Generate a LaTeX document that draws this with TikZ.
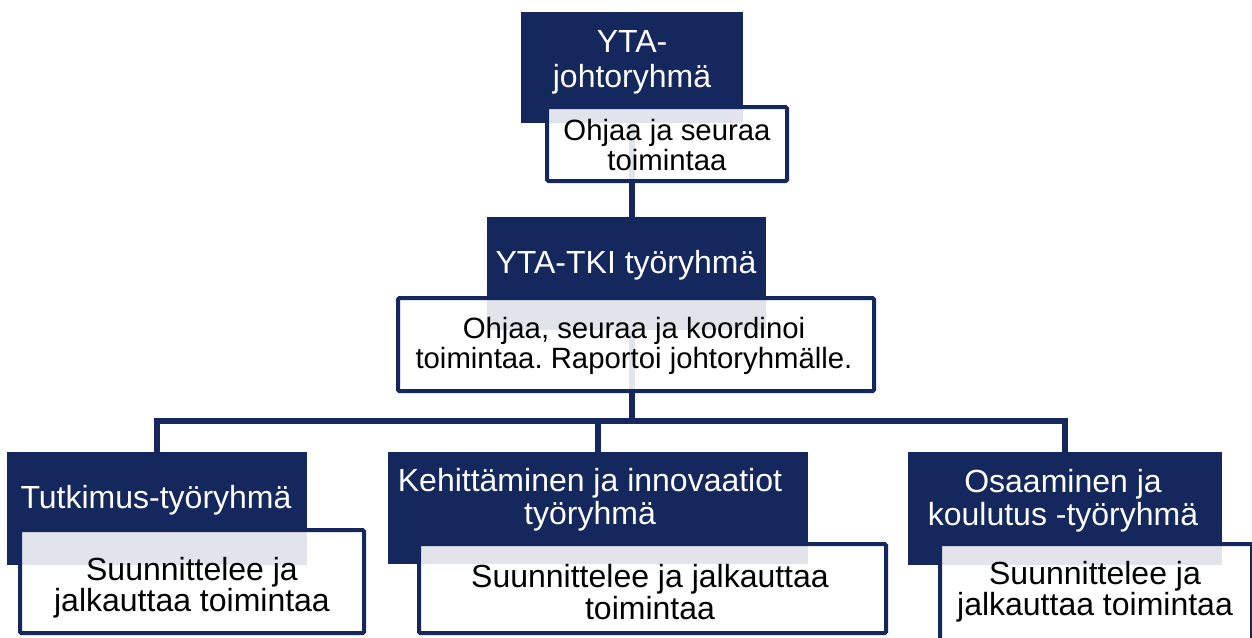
\documentclass[tikz,border=0pt]{standalone}
\usepackage{fontspec}
\setmainfont{Liberation Sans}
\frenchspacing
\definecolor{navy}{RGB}{21,40,94}
\tikzset{
  darkbox/.style={fill=navy, draw=none, inner sep=0pt},
  whitebox/.style={draw=navy, line width=3pt, fill=white, fill opacity=0.88, inner sep=0pt, rounded corners=1pt},
  conn/.style={draw=navy, line width=4.5pt},
  dtext/.style={text=white, align=center, inner sep=0pt, font=\fontsize{24}{25}\selectfont},
  wtext/.style={text=black, align=center, inner sep=0pt, font=\fontsize{24}{23.5}\selectfont},
  wtextsmall/.style={wtext, font=\fontsize{22}{23}\selectfont}
}
\begin{document}
\begin{tikzpicture}[x=0.75pt,y=-0.75pt]
\useasboundingbox (0,0) rectangle (1252,637);
\clip (0,0) rectangle (1252,637);
% dark header boxes
\node[darkbox, minimum width=166.5pt, minimum height=83.25pt] (D1) at (632,67.5) {};
\node[darkbox, minimum width=209.25pt, minimum height=84.75pt] (D2) at (626.5,273.5) {};
\node[darkbox, minimum width=225pt, minimum height=84.75pt] (D3) at (157,508.5) {};
\node[darkbox, minimum width=315pt, minimum height=84pt] (D4) at (598,508) {};
\node[darkbox, minimum width=235.5pt, minimum height=84.75pt] (D5) at (1065,508.5) {};
\coordinate (b0) at (632,421);
% connectors
\draw[conn] (D1.center) -- (D1.center |- b0);
\draw[conn] (D3.center) -- (D3.center |- b0) -- (D5.center |- b0) -- (D5.center);
\draw[conn] (D4.center |- b0) -- (D4.center);
% redraw dark boxes over connectors
\fill[navy] (D1.south west) rectangle (D1.north east);
\fill[navy] (D2.south west) rectangle (D2.north east);
\fill[navy] (D3.south west) rectangle (D3.north east);
\fill[navy] (D4.south west) rectangle (D4.north east);
\fill[navy] (D5.south west) rectangle (D5.north east);
% white boxes
\node[whitebox, minimum width=180pt, minimum height=55.5pt] (W1) at (667,144) {};
\node[whitebox, minimum width=357pt, minimum height=69.75pt] (W2) at (636,344.5) {};
\node[whitebox, minimum width=258pt, minimum height=77.25pt] (W3) at (192,581.5) {};
\node[whitebox, minimum width=350.25pt, minimum height=66.75pt] (W4) at (652.5,588.5) {};
\node[whitebox, minimum width=234pt, minimum height=72pt] (W5) at (1096,592) {};
% texts
\node[dtext, font=\fontsize{24}{26}\selectfont] (T1) at (632,62) {YTA-\\johtoryhmä};
\node[wtextsmall] (T1w) at (667,145) {Ohjaa ja seuraa\\toimintaa};
\node[dtext] (T2) at (626,265) {YTA-TKI työryhmä};
\node[wtextsmall] (T2w) at (634,346) {Ohjaa, seuraa ja koordinoi\\toimintaa. Raportoi johtoryhmälle.};
\node[dtext] (T3) at (156,500) {Tutkimus-työryhmä};
\node[wtext] (T3w) at (192,588) {Suunnittelee ja\\jalkauttaa toimintaa};
\node[dtext] (T4) at (590,500) {Kehittäminen ja innovaatiot\\työryhmä};
\node[wtext] (T4w) at (650,592) {Suunnittelee ja jalkauttaa\\toimintaa};
\node[dtext] (T5) at (1063,501) {Osaaminen ja\\koulutus -työryhmä};
\node[wtext] (T5w) at (1095,592) {Suunnittelee ja\\jalkauttaa toimintaa};
\end{tikzpicture}
\end{document}
